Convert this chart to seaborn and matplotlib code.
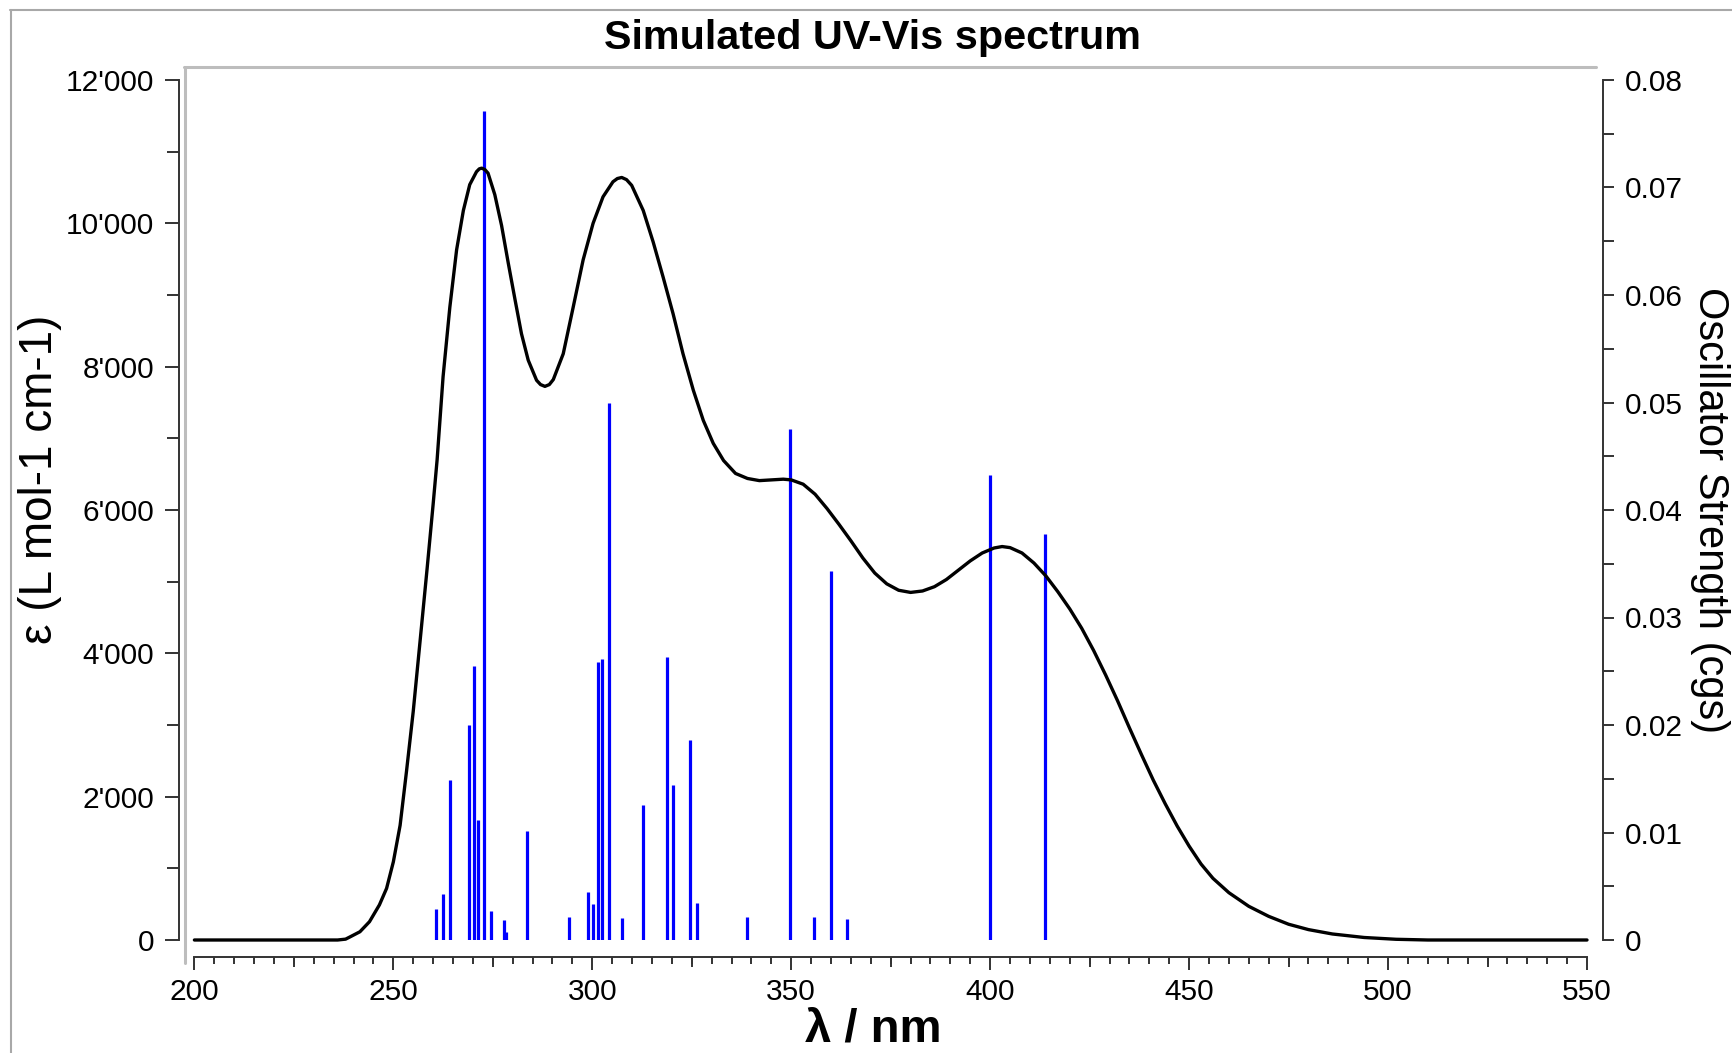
import numpy as np
import pandas as pd
import matplotlib
matplotlib.use("Agg")
import matplotlib.pyplot as plt
import seaborn as sns
from matplotlib.lines import Line2D
from matplotlib.ticker import MultipleLocator, FuncFormatter, FixedLocator

# simulated spectrum (wavelength nm / epsilon)
curve_nm = [200, 210, 220, 230, 236, 238, 239, 241.6, 244, 246.5, 248.3, 250,
            251.7, 253.3, 255, 256.7, 258.5, 260, 261, 262.5, 264.2, 265.9,
            267.6, 269.2, 270.9, 271.6, 272.2, 273.0, 273.8, 275.5, 277.2,
            278.9, 280.6, 282.2, 283.9, 286, 287, 288.1, 289.2, 290.2, 292.7,
            295.2, 297.7, 300.2, 302.7, 305.2, 306.3, 307.4, 308.6, 309.9,
            312.8, 315.3, 317.8, 320.3, 322.8, 325.4, 327.9, 330.4, 333, 336,
            339, 342, 345, 348, 350, 353, 356, 359, 362, 365, 368, 371, 374,
            377, 380, 383, 386, 389, 392, 395, 398, 401, 403, 405, 408, 411,
            414, 417, 420, 423, 426, 429, 432, 435, 438, 441, 444, 447, 450,
            453, 456, 460, 465, 470, 475, 480, 486, 494, 502, 510, 530, 550]
curve_eps = [0, 0, 0, 0, 0, 12, 40, 115, 255, 490, 720, 1090,
             1600, 2350, 3190, 4160, 5190, 6080, 6700, 7860, 8830, 9630,
             10180, 10540, 10720, 10760, 10770, 10750, 10700, 10400, 9970,
             9440, 8930, 8460, 8090, 7810, 7750, 7725, 7750, 7820, 8180,
             8830, 9490, 10000, 10370, 10580, 10625, 10640, 10610, 10530,
             10180, 9740, 9250, 8740, 8180, 7670, 7250, 6930, 6690, 6510,
             6440, 6410, 6420, 6430, 6420, 6360, 6220, 6020, 5800, 5570, 5330, 5120, 4970,
             4880, 4850, 4870, 4930, 5030, 5160, 5290, 5400, 5470, 5490, 5475, 5400, 5260,
             5080, 4860, 4620, 4350, 4040, 3700, 3340, 2960, 2590, 2230, 1900, 1590, 1310,
             1060, 860, 660, 470, 330, 220, 145, 84, 35, 10, 0, 0, 0]

# transitions (wavelength nm / oscillator strength)
stick_nm = [260.7, 262.5, 264.3, 269.0, 270.3, 271.2, 272.8, 274.6, 277.7,
            278.3, 283.7, 294.1, 298.9, 300.2, 301.5, 302.4, 304.2, 307.5,
            312.8, 318.8, 320.2, 324.5, 326.2, 339.0, 349.6, 355.7, 360.0,
            363.9, 399.9, 413.7]
stick_f = [0.00285, 0.00428, 0.01488, 0.0200, 0.0255, 0.01116, 0.0771, 0.0027,
           0.00186, 0.00075, 0.0101, 0.00217, 0.00443, 0.00335, 0.0259, 0.0261,
           0.0500, 0.00201, 0.0126, 0.0263, 0.0144, 0.0186, 0.00347, 0.00213,
           0.0475, 0.00213, 0.0343, 0.00195, 0.0433, 0.0378]

df = pd.DataFrame({"nm": curve_nm, "eps": curve_eps})

sns.set_style("ticks")
plt.rcParams["font.family"] = ["Liberation Sans", "DejaVu Sans"]
plt.rcParams["text.color"] = "black"

W, H = 1732, 1053
fig = plt.figure(figsize=(W / 100, H / 100), dpi=100)
ax = fig.add_axes([194.4 / W, 1 - 940 / H, (1587 - 194.4) / W, 860 / H])
ax2 = ax.twinx()

# sticks behind, spectrum on top
ax2.vlines(stick_nm, 0, stick_f, colors="#0000ff", lw=2.3)
sns.lineplot(data=df, x="nm", y="eps", ax=ax, color="black", lw=2.4,
             clip_on=False, sort=False, estimator=None)
ax.set_zorder(ax2.get_zorder() + 1)
ax.patch.set_visible(False)

ax.set_xlim(200, 550)
ax.set_ylim(0, 12000)
ax2.set_ylim(0, 0.08)

spine_c = "#333333"
for a in (ax, ax2):
    for s in a.spines.values():
        s.set_visible(False)
        s.set_color(spine_c)
        s.set_linewidth(1.4)
ax.spines["left"].set_visible(True)
ax.spines["left"].set_position(("outward", 10.8))
ax.spines["bottom"].set_visible(True)
ax.spines["bottom"].set_position(("axes", -17 / 860))
ax2.spines["right"].set_visible(True)
ax2.spines["right"].set_position(("outward", 11.3))

ax.yaxis.set_major_locator(MultipleLocator(2000))
ax.yaxis.set_minor_locator(MultipleLocator(1000))
ax.yaxis.set_major_formatter(FuncFormatter(lambda v, p: f"{int(round(v)):,}".replace(",", "'")))
ax.xaxis.set_major_locator(MultipleLocator(50))
ax.xaxis.set_minor_locator(MultipleLocator(5))
ax2.yaxis.set_major_locator(MultipleLocator(0.01))
ax2.yaxis.set_minor_locator(MultipleLocator(0.005))
ax2.yaxis.set_major_formatter(FuncFormatter(lambda v, p: "0" if abs(v) < 1e-9 else f"{v:.2f}"))

tick_kw = dict(colors=spine_c, width=1.4, labelsize=21.5, labelcolor="black")
ax.tick_params(axis="y", which="major", length=10, pad=8, **tick_kw)
ax.tick_params(axis="y", which="minor", length=8.4, width=1.4, colors=spine_c)
ax.tick_params(axis="x", which="major", length=9.4, pad=5.5, **tick_kw)
ax.tick_params(axis="x", which="minor", length=4.8, width=1.4, colors=spine_c)
ax2.tick_params(axis="y", which="major", length=7.7, pad=8.4, **tick_kw)
ax2.tick_params(axis="y", which="minor", length=7.7, width=1.4, colors=spine_c)

# medium ticks every 25 nm
sec = ax.secondary_xaxis(-17 / 860)
sec.spines["bottom"].set_visible(False)
sec.xaxis.set_major_locator(FixedLocator([225, 275, 325, 375, 425, 475, 525]))
sec.tick_params(axis="x", which="major", length=7.2, width=1.4, colors=spine_c, labelbottom=False)
sec.xaxis.set_minor_locator(FixedLocator([]))

ax.set_xlabel("")
ax.set_ylabel("")
ax2.set_ylabel("")
ax.grid(False)
ax2.grid(False)

# frames
fig.add_artist(Line2D([10 / W, 1], [1 - 10 / H, 1 - 10 / H], transform=fig.transFigure, color="#a8a8a8", lw=1.5))
fig.add_artist(Line2D([10.5 / W, 10.5 / W], [0, 1 - 10 / H], transform=fig.transFigure, color="#a8a8a8", lw=1.5))
fig.add_artist(Line2D([184 / W, 1596 / W], [1 - 67 / H, 1 - 67 / H], transform=fig.transFigure, color="#bdbdbd", lw=2.2))
fig.add_artist(Line2D([185 / W, 185 / W], [1 - 67 / H, 1 - 963 / H], transform=fig.transFigure, color="#bdbdbd", lw=2.2))

fig.text(873 / W, 1 - 38 / H, "Simulated UV-Vis spectrum", ha="center", va="center",
         fontsize=29.8, fontweight="bold", color="black")
fig.text(873 / W, 1 - 1030 / H, "λ / nm", ha="center", va="center",
         fontsize=34, fontweight="bold", color="black")
fig.text(40 / W, 1 - 479 / H, "ε (L mol-1 cm-1)", ha="center", va="center",
         rotation=90, fontsize=33, color="black")
fig.text(1710 / W, 1 - 510 / H, "Oscillator Strength (cgs)", ha="center", va="center",
         rotation=270, fontsize=30, color="black")

fig.savefig("out.png", dpi=100, facecolor="white")
